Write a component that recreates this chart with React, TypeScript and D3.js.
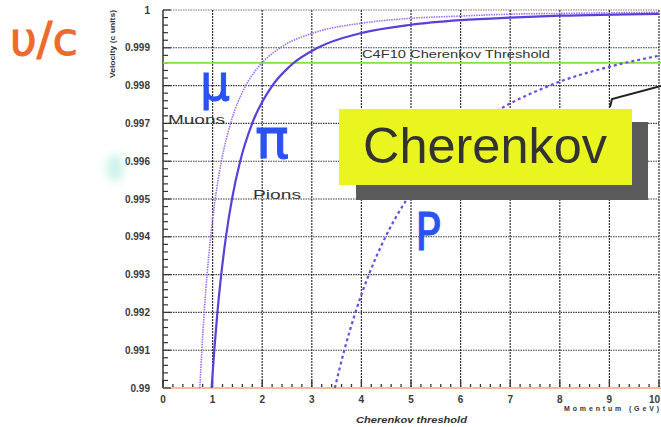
import React from "react";
import * as d3 from "d3";

// Momentum (GeV) vs velocity (c units)
const muonP = [0.742, 0.783, 0.831, 0.889, 0.961, 1.053, 1.178, 1.362, 1.669, 1.928, 2.362, 3, 4, 5, 6, 7, 8, 10];
const muonBeta = [0.99, 0.991, 0.992, 0.993, 0.994, 0.995, 0.996, 0.997, 0.998, 0.9985, 0.999, 0.99938, 0.99965, 0.99978, 0.99984, 0.99989, 0.99991, 0.99994];

const pionP = [0.98, 1.034, 1.097, 1.174, 1.269, 1.391, 1.556, 1.798, 2.204, 2.546, 3.119, 4, 5, 6, 7, 8, 10];
const pionBeta = [0.99, 0.991, 0.992, 0.993, 0.994, 0.995, 0.996, 0.997, 0.998, 0.9985, 0.999, 0.99939, 0.99961, 0.99973, 0.9998, 0.99985, 0.9999];

const kaonP = [3.465, 3.655, 3.88, 4.151, 4.487, 4.919, 5.503, 6.359, 7.794, 9.004, 10];
const kaonBeta = [0.99, 0.991, 0.992, 0.993, 0.994, 0.995, 0.996, 0.997, 0.998, 0.9985, 0.99879];

const thresholdBeta = 0.9986;

const xTicks = [0, 1, 2, 3, 4, 5, 6, 7, 8, 9, 10];
const yTicks = [0.99, 0.991, 0.992, 0.993, 0.994, 0.995, 0.996, 0.997, 0.998, 0.999, 1];
const yTickLabels = ["0.99", "0.991", "0.992", "0.993", "0.994", "0.995", "0.996", "0.997", "0.998", "0.999", "1"];

const W = 661;
const H = 427;

export default function App() {
  const x = d3.scaleLinear().domain([0, 10]).range([163, 659]);
  const y = d3.scaleLinear().domain([0.99, 1]).range([388, 10]);

  const line = d3
    .line<[number, number]>()
    .x((d) => x(d[0]))
    .y((d) => y(d[1]))
    .curve(d3.curveMonotoneX);

  const zip = (a: number[], b: number[]) => a.map((v, i) => [v, b[i]] as [number, number]);

  const xMinor = d3.range(0, 10.001, 0.2);
  const yMinor = d3.range(0.99, 1.00001, 0.0002);

  const labelFont = "'Liberation Sans', Arial, sans-serif";
  const hand = "'DejaVu Sans', sans-serif";
  const fit = "spacingAndGlyphs";

  return (
    <svg
      width={W}
      height={H}
      style={{ position: "absolute", left: 0, top: 0, background: "#fff" }}
    >
      <defs>
        <clipPath id="plot">
          <rect x={x(0)} y={y(1) - 2} width={x(10) - x(0) + 2} height={y(0.99) - y(1) + 2} />
        </clipPath>
        <filter id="soft" x="-50%" y="-50%" width="200%" height="200%">
          <feGaussianBlur stdDeviation="4" />
        </filter>
      </defs>

      {/* horizontal grid */}
      {yTicks.slice(1).map((t) => (
        <line
          key={"hg" + t}
          x1={x(0)}
          x2={x(10)}
          y1={y(t)}
          y2={y(t)}
          stroke={t === 1 ? "#8a6a7a" : "#3a3a3a"}
          strokeWidth={1.1}
          strokeDasharray="1.5,1"
        />
      ))}
      {/* vertical grid */}
      {xTicks.slice(1).map((t) => (
        <line
          key={"vg" + t}
          x1={x(t)}
          x2={x(t)}
          y1={y(1)}
          y2={y(0.99)}
          stroke="#333"
          strokeWidth={1.2}
          strokeDasharray="2,1"
        />
      ))}

      {/* axes */}
      <line x1={x(0)} x2={x(0)} y1={y(1)} y2={y(0.99)} stroke="#333" strokeWidth={1.5} />
      <line x1={x(0)} x2={W} y1={y(0.99)} y2={y(0.99)} stroke="#f3a57a" strokeWidth={1.6} />

      {yMinor.map((t, i) => (
        <line
          key={"yt" + i}
          x1={x(0)}
          x2={x(0) + (i % 5 === 0 ? 8 : 5)}
          y1={y(t)}
          y2={y(t)}
          stroke="#333"
          strokeWidth={1.2}
        />
      ))}
      {xMinor.map((t, i) => (
        <line
          key={"xt" + i}
          x1={x(t)}
          x2={x(t)}
          y1={y(0.99) - 1}
          y2={y(0.99) - (i % 5 === 0 ? 8 : 4)}
          stroke="#333"
          strokeWidth={1.3}
        />
      ))}

      {/* tick labels */}
      {yTicks.map((t, i) => (
        <text
          key={"yl" + t}
          x={150}
          y={y(t) + 3.5}
          textAnchor="end"
          fontFamily={labelFont}
          fontWeight="bold"
          fontSize={10}
          fill="#3a3a3a"
        >
          {yTickLabels[i]}
        </text>
      ))}
      {xTicks.map((t) => (
        <text
          key={"xl" + t}
          x={t === 10 ? W - 1 : x(t)}
          y={403}
          textAnchor={t === 10 ? "end" : "middle"}
          fontFamily={labelFont}
          fontWeight="bold"
          fontSize={10}
          fill="#3a3a3a"
        >
          {t}
        </text>
      ))}

      {/* axis titles */}
      <text
        transform="translate(115,44) rotate(-90)"
        textAnchor="middle"
        fontFamily={labelFont}
        fontWeight="bold"
        fontSize={7.5}
        fill="#333"
        textLength={68}
        lengthAdjust={fit}
      >
        Velocity (c units)
      </text>
      <text
        x={564}
        y={411}
        fontFamily={labelFont}
        fontWeight="bold"
        fontSize={7}
        fill="#333"
        textLength={95}
      >
        Momentum (GeV)
      </text>
      <text
        x={356}
        y={423}
        fontFamily={labelFont}
        fontWeight="bold"
        fontStyle="italic"
        fontSize={9}
        fill="#333"
        textLength={111}
        lengthAdjust={fit}
      >
        Cherenkov threshold
      </text>

      {/* C4F10 threshold */}
      <line
        x1={x(0)}
        x2={W}
        y1={y(thresholdBeta)}
        y2={y(thresholdBeta)}
        stroke="#86e040"
        strokeWidth={1.6}
      />
      <text
        x={362}
        y={58}
        fontFamily={labelFont}
        fontSize={11}
        fill="#333"
        textLength={188}
        lengthAdjust={fit}
      >
        C4F10 Cherenkov Threshold
      </text>

      {/* particle curves */}
      <g clipPath="url(#plot)" fill="none">
        <path
          d={line(zip(muonP, muonBeta)) || ""}
          stroke="#9a70f2"
          strokeWidth={1.6}
          strokeDasharray="1.5,1"
        />
        <path d={line(zip(pionP, pionBeta)) || ""} stroke="#5a3fd8" strokeWidth={2.2} />
        <path
          d={line(zip(kaonP, kaonBeta)) || ""}
          stroke="#6a4de8"
          strokeWidth={2.2}
          strokeDasharray="3,3"
        />
      </g>

      <text
        x={168}
        y={124}
        fontFamily={labelFont}
        fontSize={13}
        fill="#333"
        textLength={57}
        lengthAdjust={fit}
      >
        Muons
      </text>
      <text
        x={253}
        y={199}
        fontFamily={labelFont}
        fontSize={13}
        fill="#333"
        textLength={48}
        lengthAdjust={fit}
      >
        Pions
      </text>

      {/* Cherenkov callout */}
      <polyline points="610,107 612,99 661,86" fill="none" stroke="#222" strokeWidth={2} />
      <rect x={356} y={122} width={292} height={78} fill="#5a5a5a" />
      <rect x={339} y={109} width={293} height={76} fill="#eaf520" />
      <text
        x={363}
        y={163}
        fontFamily={labelFont}
        fontSize={50}
        fill="#333"
        textLength={244}
        lengthAdjust={fit}
      >
        Cherenkov
      </text>

      {/* handwritten notes */}
      <ellipse cx={115} cy={168} rx={9} ry={14} fill="#9fe8d8" opacity={0.5} filter="url(#soft)" />
      <text
        x={10}
        y={55}
        fontFamily={hand}
        fontSize={46}
        fill="#ee6a2c"
        stroke="#ee6a2c"
        strokeWidth={1}
        textLength={68}
        lengthAdjust={fit}
      >
        υ/c
      </text>
      <text
        x={200}
        y={100}
        fontFamily={hand}
        fontSize={50}
        fill="#2a52f0"
        stroke="#2a52f0"
        strokeWidth={1}
        textLength={30}
        lengthAdjust={fit}
      >
        μ
      </text>
      <text
        x={255}
        y={158}
        fontFamily={hand}
        fontSize={56}
        fill="#2a52f0"
        stroke="#2a52f0"
        strokeWidth={1}
        textLength={34}
        lengthAdjust={fit}
      >
        π
      </text>
      <text
        x={415}
        y={250}
        fontFamily={hand}
        fontSize={52}
        fill="#2a52f0"
        stroke="#2a52f0"
        strokeWidth={1}
        textLength={26}
        lengthAdjust={fit}
      >
        P
      </text>
    </svg>
  );
}
